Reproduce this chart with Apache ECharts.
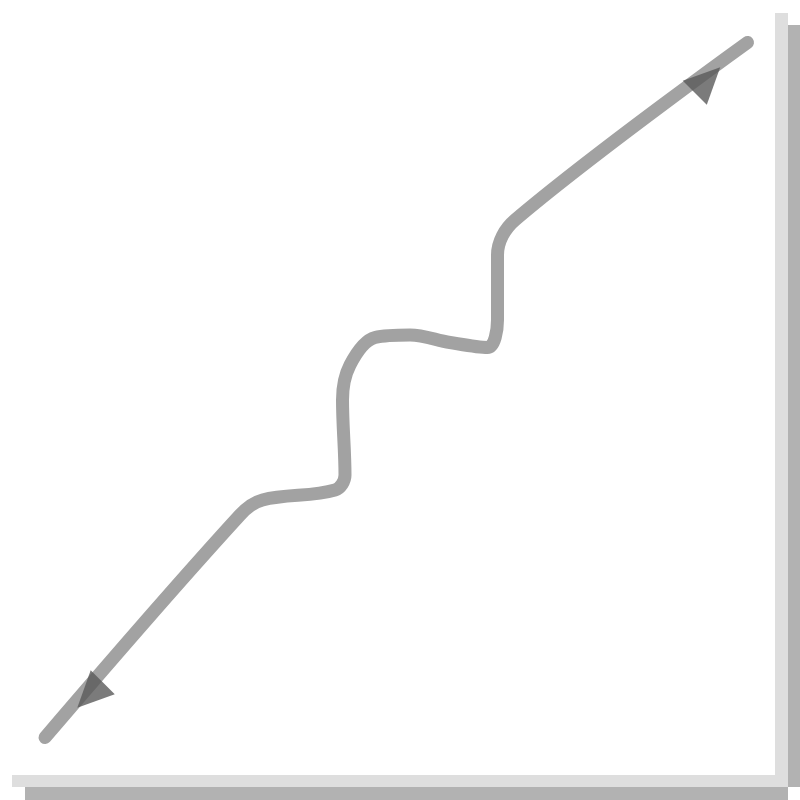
<!DOCTYPE html>
<html>
<head>
<meta charset="utf-8">
<style>
  html, body { margin: 0; padding: 0; background: #fff; }
  #main { width: 800px; height: 800px; }
</style>
<script src="https://cdn.jsdelivr.net/npm/echarts@6/dist/echarts.min.js"></script>
</head>
<body>
<div id="main"></div>
<script>
// path of the wavy line, in icon units (64 x 64, y up)
const pathX = [3.6, 19.2, 21.0, 26.8, 27.6, 27.4, 28.0, 30.0, 32.8, 36.0, 39.0, 39.8, 39.8, 41.2, 59.8]
const pathY = [5.0, 22.8, 24.0, 24.8, 26.0, 32.0, 34.8, 37.0, 37.2, 36.6, 36.2, 38.4, 43.6, 46.4, 60.6]

// arrow heads near both ends
const arrowX = [7.2, 56.6]
const arrowY = [8.4, 57.6]
const arrowAngle = [135, -45]

const chartDom = document.getElementById('main')
const myChart = echarts.init(chartDom)

const lineData = pathX.map((x, i) => [x, pathY[i]])
const arrowData = arrowX.map((x, i) => ({
    value: [x, arrowY[i]],
    symbolRotate: arrowAngle[i]
}))

const option = {
    animation: false,
    backgroundColor: '#fff',
    grid: { left: 0, right: 0, top: 0, bottom: 0 },
    xAxis: { type: 'value', min: 0, max: 64, show: false },
    yAxis: { type: 'value', min: 0, max: 64, show: false },
    // drop-shadow frame along right and bottom edges
    graphic: [
        { type: 'rect', shape: { x: 12, y: 775, width: 776, height: 12 }, style: { fill: '#dedede' } },
        { type: 'rect', shape: { x: 25, y: 787, width: 763, height: 13 }, style: { fill: '#b2b2b2' } },
        { type: 'rect', shape: { x: 775, y: 13, width: 13, height: 774 }, style: { fill: '#dedede' } },
        { type: 'rect', shape: { x: 788, y: 25, width: 12, height: 762 }, style: { fill: '#b2b2b2' } }
    ],
    series: [
        {
            type: 'line',
            data: lineData,
            smooth: 0.35,
            symbol: 'none',
            z: 2,
            lineStyle: { color: '#a2a2a2', width: 13, cap: 'round' }
        },
        {
            type: 'scatter',
            data: arrowData,
            symbol: 'triangle',
            symbolSize: [34, 36],
            z: 5,
            itemStyle: { color: '#5a5a5a' }
        }
    ]
}

myChart.setOption(option)
</script>
</body>
</html>
